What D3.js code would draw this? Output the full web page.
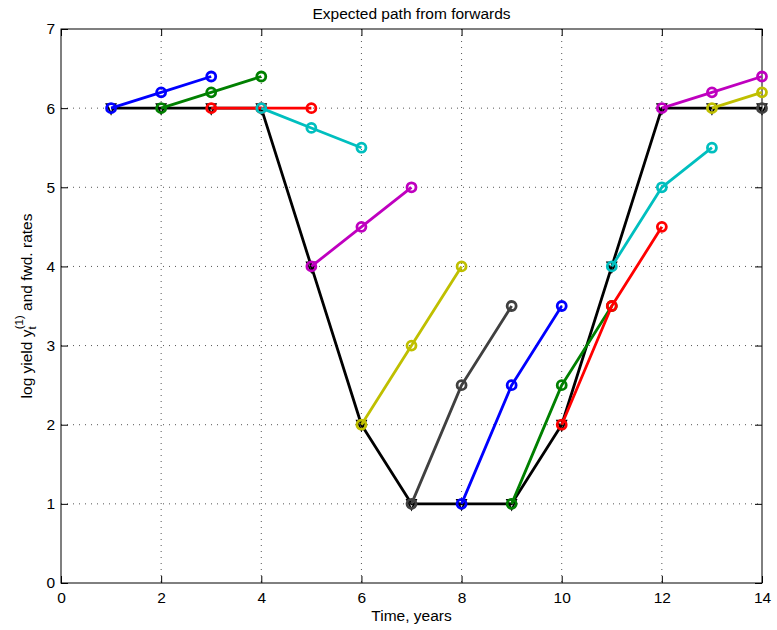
<!DOCTYPE html>
<html>
<head>
<meta charset="utf-8">
<script src="https://cdn.jsdelivr.net/npm/d3@7"></script>
<style>
  body { margin: 0; background: #fff; }
  svg { display: block; font-family: "Liberation Sans", Arial, Helvetica, sans-serif; }
</style>
</head>
<body>
<svg id="chart" width="777" height="630"></svg>
<script>
// ---- data ----
const times = [1, 2, 3, 4, 5, 6, 7, 8, 9, 10, 11, 12, 13, 14];
const pathYield = [6, 6, 6, 6, 4, 2, 1, 1, 1, 2, 4, 6, 6, 6];
// forward curves starting at each time t (values at t, t+1, t+2)
const fwd1 = [6, 6.2, 6.4];
const fwd2 = [6, 6.2, 6.4];
const fwd3 = [6, 6, 6];
const fwd4 = [6, 5.75, 5.5];
const fwd5 = [4, 4.5, 5];
const fwd6 = [2, 3, 4];
const fwd7 = [1, 2.5, 3.5];
const fwd8 = [1, 2.5, 3.5];
const fwd9 = [1, 2.5, 3.5];
const fwd10 = [2, 3.5, 4.5];
const fwd11 = [4, 5, 5.5];
const fwd12 = [6, 6.2, 6.4];
const fwd13 = [6, 6.2];
const fwd14 = [6];
const forwards = [fwd1, fwd2, fwd3, fwd4, fwd5, fwd6, fwd7, fwd8, fwd9, fwd10, fwd11, fwd12, fwd13, fwd14];
const colorCycle = ["#0000ff", "#008000", "#ff0000", "#00bfbf", "#bf00bf", "#bfbf00", "#404040"];
const xTicks = [0, 2, 4, 6, 8, 10, 12, 14];
const yTicks = [0, 1, 2, 3, 4, 5, 6, 7];
const titleText = "Expected path from forwards";
const xLabelText = "Time, years";

// ---- layout ----
const FS = 15.5;
const svg = d3.select("#chart");
const L = 61, R = 762, T = 29, B = 583;
const x = d3.scaleLinear().domain([0, 14]).range([L, R]);
const y = d3.scaleLinear().domain([0, 7]).range([B, T]);

// grid
const grid = svg.append("g");
xTicks.filter(v => v > 0 && v < 14).forEach(v => {
  grid.append("line").attr("x1", x(v)).attr("x2", x(v)).attr("y1", T).attr("y2", B)
    .attr("stroke", "#555").attr("stroke-width", 1).attr("stroke-dasharray", "1,5");
});
yTicks.filter(v => v > 0 && v < 7).forEach(v => {
  grid.append("line").attr("x1", L).attr("x2", R).attr("y1", y(v)).attr("y2", y(v))
    .attr("stroke", "#555").attr("stroke-width", 1).attr("stroke-dasharray", "1,5");
});

// axes
const tickLen = 7;
const fmt = d3.format("d");
const bottomAxis = d3.axisBottom(x).tickValues(xTicks).tickFormat(fmt).tickSizeInner(-tickLen).tickSizeOuter(0).tickPadding(9);
const topAxis = d3.axisTop(x).tickValues(xTicks).tickSizeInner(-tickLen).tickSizeOuter(0).tickFormat("");
const leftAxis = d3.axisLeft(y).tickValues(yTicks).tickFormat(fmt).tickSizeInner(-tickLen).tickSizeOuter(0).tickPadding(6);
const rightAxis = d3.axisRight(y).tickValues(yTicks).tickSizeInner(-tickLen).tickSizeOuter(0).tickFormat("");

function styleAxis(g) {
  g.select(".domain").remove();
  g.selectAll(".tick line").attr("stroke", "#000").attr("stroke-width", 1);
  g.selectAll(".tick text").attr("fill", "#000").attr("font-size", FS)
    .attr("font-family", "'Liberation Sans', Arial, sans-serif");
}
svg.append("g").attr("transform", `translate(0,${B})`).call(bottomAxis).call(styleAxis);
svg.append("g").attr("transform", `translate(0,${T})`).call(topAxis).call(styleAxis);
svg.append("g").attr("transform", `translate(${L},0)`).call(leftAxis).call(styleAxis);
svg.append("g").attr("transform", `translate(${R},0)`).call(rightAxis).call(styleAxis);

svg.append("rect").attr("x", L).attr("y", T).attr("width", R - L).attr("height", B - T)
  .attr("fill", "none").attr("stroke", "#000").attr("stroke-width", 1);

// data
const lineGen = d3.line().x(d => x(d[0])).y(d => y(d[1]));
const plot = svg.append("g");
const LW = 2.8;

// main path (black, triangle-down markers)
const mainPts = times.map((t, i) => [t, pathYield[i]]);
plot.append("path").attr("d", lineGen(mainPts)).attr("fill", "none")
  .attr("stroke", "#000").attr("stroke-width", LW).attr("stroke-linejoin", "round");
const tri = "M-4.5,-4 L4.5,-4 L0,5.5 Z";
plot.selectAll(".tri").data(mainPts).enter().append("path")
  .attr("transform", d => `translate(${x(d[0])},${y(d[1])})`)
  .attr("d", tri).attr("fill", "none").attr("stroke", "#000").attr("stroke-width", 1.8)
  .attr("stroke-linejoin", "miter");

// forward curves
forwards.forEach((vals, i) => {
  const t0 = times[i];
  const pts = vals.map((v, j) => [t0 + j, v]);
  const col = colorCycle[i % colorCycle.length];
  const g = plot.append("g");
  if (pts.length > 1) {
    g.append("path").attr("d", lineGen(pts)).attr("fill", "none")
      .attr("stroke", col).attr("stroke-width", LW).attr("stroke-linejoin", "round");
  }
  g.selectAll("circle").data(pts).enter().append("circle")
    .attr("cx", d => x(d[0])).attr("cy", d => y(d[1])).attr("r", 4.5)
    .attr("fill", "none").attr("stroke", col).attr("stroke-width", LW);
});

// labels
svg.append("text").attr("x", (L + R) / 2).attr("y", 19).attr("text-anchor", "middle")
  .attr("font-size", FS).text(titleText);
svg.append("text").attr("x", (L + R) / 2).attr("y", 621).attr("text-anchor", "middle")
  .attr("font-size", FS).text(xLabelText);

const yl = svg.append("text").attr("transform", `translate(32,${(T + B) / 2}) rotate(-90)`)
  .attr("text-anchor", "middle").attr("font-size", FS);
yl.append("tspan").text("log yield y");
yl.append("tspan").attr("dy", 4).attr("font-size", 11.5).text("t");
yl.append("tspan").attr("dy", -13).attr("dx", -3).attr("font-size", 11.5).text("(1)");
yl.append("tspan").attr("dy", 9).text(" and fwd. rates");
</script>
</body>
</html>
